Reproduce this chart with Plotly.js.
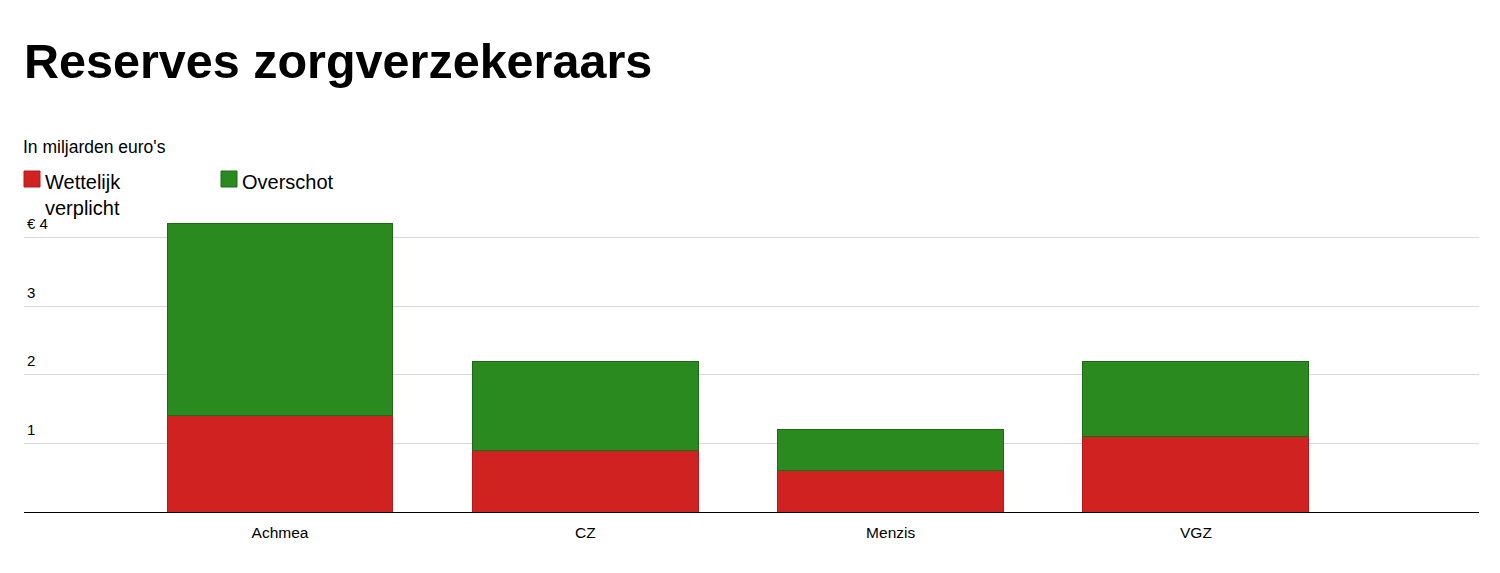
<!DOCTYPE html>
<html>
<head>
<meta charset="utf-8">
<script src="https://cdn.plot.ly/plotly-3.0.1.min.js"></script>
<style>html,body{margin:0;padding:0;background:#fff;}#chart{width:1500px;height:573px;}</style>
</head>
<body>
<div id="chart"></div>
<script>
// ---- data ----
var categories = ["Achmea", "CZ", "Menzis", "VGZ"];
var wettelijk = [1.4, 0.9, 0.6, 1.1];
var overschot = [2.8, 1.3, 0.6, 1.1];
var seriesNames = ["Wettelijk<br>verplicht", "Overschot"];
var seriesColors = ["#d12222", "#2a8a1f"];
var seriesLineColors = ["#b51a1a", "#1c6a16"];
var yTickVals = [0, 1, 2, 3, 4];
var yTickText = ["", "1", "2", "3", "€ 4"];
var chartTitle = "Reserves zorgverzekeraars";
var subTitle = "In miljarden euro's";

// ---- layout geometry ----
var W = 1500, H = 573;
var M = {l: 24, r: 21, t: 210, b: 61};
var PW = W - M.l - M.r, PH = H - M.t - M.b;
function px(x) { return (x - M.l) / PW; }
function py(y) { return (H - M.b - y) / PH; }

var FONT = "Liberation Sans, Arial, Helvetica, sans-serif";

var traces = [wettelijk, overschot].map(function (vals, i) {
  return {
    type: "bar",
    x: categories,
    y: vals,
    name: seriesNames[i],
    marker: {color: seriesColors[i], line: {color: seriesLineColors[i], width: 1}},
    showlegend: false,
    hoverinfo: "x+y+name"
  };
});

var shapes = [];
var annotations = [
  {xref: "paper", yref: "paper", x: px(21), y: py(135), xanchor: "left", yanchor: "top",
   text: subTitle, showarrow: false, font: {family: FONT, size: 17.5, color: "#000"}}
];
var legendX = [24, 221];
seriesNames.forEach(function (n, i) {
  shapes.push({type: "rect", xref: "paper", yref: "paper",
    x0: px(legendX[i]), x1: px(legendX[i] + 16), y0: py(187), y1: py(171),
    fillcolor: seriesColors[i], line: {color: seriesLineColors[i], width: 1}});
  annotations.push({xref: "paper", yref: "paper", x: px(legendX[i] + 19), y: py(169),
    xanchor: "left", yanchor: "top", align: "left", text: n, showarrow: false,
    font: {family: FONT, size: 20, color: "#000"}});
});

var layout = {
  width: W, height: H,
  margin: M,
  paper_bgcolor: "#fff", plot_bgcolor: "#fff",
  font: {family: FONT, color: "#000"},
  title: {text: "<b>" + chartTitle + "</b>", xref: "container", yref: "container",
    x: 24 / W, xanchor: "left", y: 1 - 44 / H, yanchor: "top",
    font: {family: FONT, size: 48.5, color: "#000"}},
  barmode: "stack",
  bargap: 0.26,
  xaxis: {range: [-0.8384, 3.927], showgrid: false, zeroline: false,
    showline: true, linecolor: "#000", linewidth: 1,
    ticks: "", ticklabelstandoff: 6, tickfont: {size: 15.5, color: "#000"}, fixedrange: true},
  yaxis: {range: [0, 4.4], tickvals: yTickVals, ticktext: yTickText,
    showgrid: true, gridcolor: "#d9d9d9", gridwidth: 1, zeroline: false,
    showline: false, ticks: "", ticklabelposition: "inside top", ticklabelshift: -3,
    tickfont: {size: 15, color: "#000"}, fixedrange: true},
  shapes: shapes,
  annotations: annotations
};

Plotly.newPlot("chart", traces, layout, {displayModeBar: false, staticPlot: true});
</script>
</body>
</html>
